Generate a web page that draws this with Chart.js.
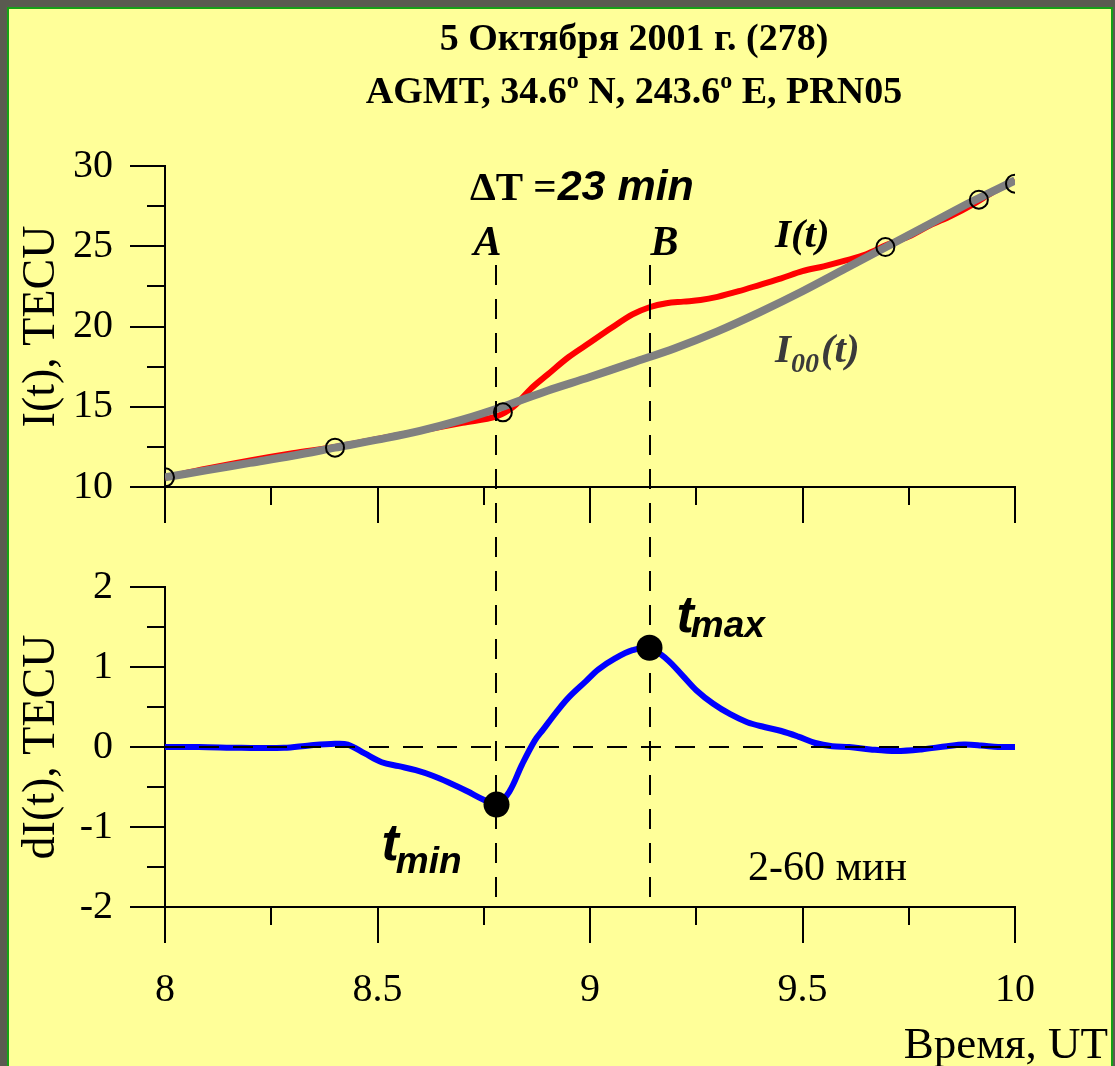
<!DOCTYPE html>
<html><head><meta charset="utf-8">
<script src="https://cdn.jsdelivr.net/npm/chart.js@4.4.1/dist/chart.umd.min.js"></script>
<style>
html,body{margin:0;padding:0;background:#5a5a50;width:1115px;height:1066px;overflow:hidden}
#panel{position:absolute;left:7px;top:7px;width:1106px;height:1075px;background:#ffff99;border:2px solid #16a016;box-sizing:border-box}
canvas{position:absolute;left:0}
#c1{top:0}
#c2{top:545px}
</style></head><body>
<div id="panel"></div>
<canvas id="c1" width="1115" height="545"></canvas>
<canvas id="c2" width="1115" height="521"></canvas>
<script>
const SERIF = '"Liberation Serif", "Times New Roman", serif';
const SANS = '"Liberation Sans", Arial, sans-serif';

// ---- data ----
const timeI = [8.0, 8.1, 8.2, 8.3, 8.4, 8.5, 8.6, 8.7, 8.78, 8.82, 8.86, 8.9, 8.95, 9.0, 9.05, 9.1, 9.14, 9.18, 9.22, 9.26, 9.3, 9.35, 9.4, 9.45, 9.5, 9.55, 9.6, 9.65, 9.7, 9.75, 9.8, 9.85, 9.9, 9.95, 10.0];
const valuesI = [10.6, 11.15, 11.65, 12.1, 12.5, 13.0, 13.5, 14.0, 14.4, 15.0, 16.1, 17.0, 18.1, 19.0, 19.9, 20.75, 21.2, 21.45, 21.55, 21.65, 21.85, 22.2, 22.6, 23.0, 23.45, 23.75, 24.1, 24.5, 25.1, 25.6, 26.3, 26.9, 27.6, 28.4, 29.1];

const timeI00 = [8.0, 8.1, 8.2, 8.3, 8.4, 8.5, 8.6, 8.7, 8.8, 8.9, 9.0, 9.1, 9.2, 9.3, 9.4, 9.5, 9.6, 9.7, 9.8, 9.9, 10.0];
const valuesI00 = [10.6, 11.05, 11.5, 11.95, 12.45, 12.95, 13.5, 14.2, 15.05, 16.0, 16.85, 17.75, 18.65, 19.7, 20.9, 22.2, 23.6, 25.0, 26.4, 27.8, 29.1];

const timeRef = [8.0, 8.4, 8.795, 9.695, 9.915, 10.0];
const valuesRef = [10.6, 12.45, 14.65, 24.95, 27.9, 28.9];

const timeDI = [8.0, 8.08, 8.18, 8.28, 8.34, 8.40, 8.43, 8.47, 8.51, 8.55, 8.59, 8.63, 8.67, 8.71, 8.75, 8.78, 8.81, 8.84, 8.87, 8.89, 8.92, 8.95, 8.99, 9.02, 9.06, 9.10, 9.14, 9.18, 9.22, 9.25, 9.29, 9.33, 9.37, 9.41, 9.45, 9.49, 9.53, 9.57, 9.61, 9.66, 9.72, 9.78, 9.84, 9.88, 9.92, 9.96, 10.0];
const valuesDI = [0.0, 0.0, -0.01, -0.01, 0.02, 0.04, 0.03, -0.08, -0.19, -0.24, -0.29, -0.36, -0.45, -0.55, -0.66, -0.72, -0.56, -0.22, 0.08, 0.22, 0.43, 0.62, 0.82, 0.97, 1.11, 1.21, 1.24, 1.10, 0.88, 0.71, 0.54, 0.41, 0.31, 0.25, 0.20, 0.13, 0.05, 0.01, 0.0, -0.03, -0.05, -0.03, 0.01, 0.03, 0.02, 0.0, 0.0];

const tA = 8.78, tB = 9.14;
const timeExtrema = [tA, tB];
const valuesExtrema = [-0.72, 1.24];

const xTickLabels = [8, 8.5, 9, 9.5, 10];
const yTopTickLabels = [10, 15, 20, 25, 30];
const yBottomTickLabels = [-2, -1, 0, 1, 2];

const pts = (xs, ys) => xs.map((x, i) => ({x: x, y: ys[i]}));

// ---- helpers ----
function drawRuns(ctx, x, y, runs, align) {
  let total = 0;
  runs.forEach(r => { ctx.font = r.font; r.w = ctx.measureText(r.text).width + (r.gap || 0); total += r.w; });
  let cx = align === 'center' ? x - total / 2 : (align === 'right' ? x - total : x);
  ctx.textAlign = 'left'; ctx.textBaseline = 'alphabetic';
  runs.forEach(r => { ctx.font = r.font; ctx.fillStyle = r.color || '#000'; ctx.fillText(r.text, cx, y + (r.dy || 0)); cx += r.w; });
}
function seg(ctx, x1, y1, x2, y2) { ctx.beginPath(); ctx.moveTo(x1, y1); ctx.lineTo(x2, y2); ctx.stroke(); }
function zeroPad(s) { s.paddingTop = 0; s.paddingBottom = 0; s.paddingLeft = 0; s.paddingRight = 0; }

function tickMarksPlugin(yMajor) {
  return {
    id: 'tickMarks',
    afterDraw(chart) {
      const ctx = chart.ctx, a = chart.chartArea, xs = chart.scales.x, ys = chart.scales.y;
      ctx.save();
      ctx.strokeStyle = '#000'; ctx.lineWidth = 2;
      ys.ticks.forEach(t => {
        const py = Math.round(ys.getPixelForValue(t.value));
        const len = yMajor.includes(t.value) ? 35 : 18;
        seg(ctx, a.left - len, py, a.left, py);
      });
      xs.ticks.forEach(t => {
        const px = Math.round(xs.getPixelForValue(t.value));
        const len = xTickLabels.includes(t.value) ? 36 : 18;
        seg(ctx, px, a.bottom, px, a.bottom + len);
      });
      ctx.restore();
    }
  };
}

const DASH = [20, 14];

const topPlugin = {
  id: 'topDecor',
  afterDatasetsDraw(chart) {
    const ctx = chart.ctx, xs = chart.scales.x;
    ctx.save();
    ctx.strokeStyle = '#000'; ctx.lineWidth = 2; ctx.setLineDash(DASH); ctx.lineDashOffset = 0;
    [tA, tB].forEach(t => { const px = Math.round(xs.getPixelForValue(t)); seg(ctx, px, 265, px, chart.height); });
    ctx.restore();
  },
  afterDraw(chart) {
    const ctx = chart.ctx, xs = chart.scales.x;
    ctx.save();
    drawRuns(ctx, 634, 50, [{text: '5 Октября 2001 г. (278)', font: 'bold 38px ' + SERIF}], 'center');
    drawRuns(ctx, 634, 103, [
      {text: 'AGMT, 34.6', font: 'bold 38px ' + SERIF},
      {text: 'o', font: 'bold 24px ' + SERIF, dy: -15},
      {text: ' N, 243.6', font: 'bold 38px ' + SERIF},
      {text: 'o', font: 'bold 24px ' + SERIF, dy: -15},
      {text: ' E, PRN05', font: 'bold 38px ' + SERIF}
    ], 'center');
    drawRuns(ctx, 470, 200, [
      {text: 'ΔT =', font: 'bold 41px ' + SERIF, gap: 1},
      {text: '23 min', font: 'bold italic 43px ' + SANS}
    ], 'left');
    const pA = xs.getPixelForValue(tA), pB = xs.getPixelForValue(tB);
    drawRuns(ctx, pA - 9, 255, [{text: 'A', font: 'bold italic 42px ' + SERIF}], 'center');
    drawRuns(ctx, pB + 15, 255, [{text: 'B', font: 'bold italic 42px ' + SERIF}], 'center');
    drawRuns(ctx, 775, 247, [{text: 'I(t)', font: 'bold italic 41px ' + SERIF}], 'left');
    drawRuns(ctx, 775, 362, [
      {text: 'I', font: 'bold italic 41px ' + SERIF, color: '#3a3a3a'},
      {text: '00', font: 'bold italic 28px ' + SERIF, dy: 10, color: '#3a3a3a', gap: 2},
      {text: '(t)', font: 'bold italic 41px ' + SERIF, color: '#3a3a3a'}
    ], 'left');
    ctx.restore();
  }
};

const bottomPlugin = {
  id: 'bottomDecor',
  afterDatasetsDraw(chart) {
    const ctx = chart.ctx, xs = chart.scales.x, ys = chart.scales.y, a = chart.chartArea;
    ctx.save();
    ctx.strokeStyle = '#000'; ctx.lineWidth = 2; ctx.setLineDash(DASH);
    const py0 = Math.round(ys.getPixelForValue(0));
    ctx.lineDashOffset = 0;
    seg(ctx, a.left, py0, a.right, py0);
    ctx.lineDashOffset = 545 - 265;
    [tA, tB].forEach(t => { const px = Math.round(xs.getPixelForValue(t)); seg(ctx, px, 0, px, a.bottom); });
    ctx.restore();
  },
  afterDraw(chart) {
    const ctx = chart.ctx, xs = chart.scales.x, ys = chart.scales.y;
    ctx.save();
    const pA = xs.getPixelForValue(tA), pB = xs.getPixelForValue(tB);
    const yB = ys.getPixelForValue(valuesExtrema[1]), yA = ys.getPixelForValue(valuesExtrema[0]);
    drawRuns(ctx, pB + 27, yB - 16, [
      {text: 't', font: 'bold italic 52px ' + SANS, gap: -3},
      {text: 'max', font: 'bold italic 37px ' + SANS, dy: 5}
    ], 'left');
    drawRuns(ctx, pA - 115, yA + 55, [
      {text: 't', font: 'bold italic 52px ' + SANS, gap: -3},
      {text: 'min', font: 'bold italic 37px ' + SANS, dy: 13}
    ], 'left');
    drawRuns(ctx, 748, 335, [{text: '2-60 мин', font: '42px ' + SERIF}], 'left');
    drawRuns(ctx, 1108, 513, [{text: 'Время, UT', font: '45px ' + SERIF}], 'right');
    ctx.restore();
  }
};

const tickFont = {family: SERIF, size: 40};
const axisBorder = {display: true, color: '#000', width: 2};
const noGrid = {display: true, drawOnChartArea: false, drawTicks: false};

Chart.defaults.font.family = SERIF;

new Chart(document.getElementById('c1'), {
  type: 'scatter',
  data: {
    datasets: [
      {label: 'I(t)', data: pts(timeI, valuesI), showLine: true, borderColor: '#ff0000', borderWidth: 6, pointRadius: 0, tension: 0.35, order: 2},
      {label: 'I00(t)', data: pts(timeI00, valuesI00), showLine: true, borderColor: '#808080', borderWidth: 8, pointRadius: 0, tension: 0.35, order: 1},
      {label: 'points', data: pts(timeRef, valuesRef), showLine: false, pointRadius: 9, pointBorderWidth: 2, pointBorderColor: '#000', pointBackgroundColor: 'rgba(0,0,0,0)', order: 0}
    ]
  },
  options: {
    responsive: false, animation: false, devicePixelRatio: 1,
    layout: {padding: {top: 166, left: 0, right: 100, bottom: 0}},
    plugins: {legend: {display: false}, tooltip: {enabled: false}, title: {display: false}},
    scales: {
      x: {type: 'linear', min: 8, max: 10,
          ticks: {display: false, stepSize: 0.25, autoSkip: false},
          grid: noGrid, border: axisBorder,
          afterFit(s) { s.height = 58; zeroPad(s); }},
      y: {type: 'linear', min: 10, max: 30,
          ticks: {stepSize: 2.5, autoSkip: false, color: '#000', font: tickFont, padding: 52,
                  callback: v => yTopTickLabels.includes(v) ? String(v) : ''},
          grid: noGrid, border: axisBorder,
          title: {display: true, text: 'I(t), TECU', color: '#000', font: {family: SERIF, size: 46}, padding: {top: 14, bottom: 0}},
          afterFit(s) { s.width = 165; zeroPad(s); }}
    }
  },
  plugins: [tickMarksPlugin(yTopTickLabels), topPlugin]
});

new Chart(document.getElementById('c2'), {
  type: 'scatter',
  data: {
    datasets: [
      {label: 'dI(t)', data: pts(timeDI, valuesDI), showLine: true, borderColor: '#0000ff', borderWidth: 6, pointRadius: 0, tension: 0.35, order: 1},
      {label: 'extrema', data: pts(timeExtrema, valuesExtrema), showLine: false, pointRadius: 13, pointBorderWidth: 0, pointBackgroundColor: '#000', pointBorderColor: '#000', order: 0}
    ]
  },
  options: {
    responsive: false, animation: false, devicePixelRatio: 1,
    layout: {padding: {top: 42, left: 0, right: 100, bottom: 0}},
    plugins: {legend: {display: false}, tooltip: {enabled: false}, title: {display: false}},
    scales: {
      x: {type: 'linear', min: 8, max: 10,
          ticks: {stepSize: 0.25, autoSkip: false, maxRotation: 0, color: '#000', font: tickFont, padding: 59,
                  callback: v => xTickLabels.includes(v) ? String(v) : ''},
          grid: noGrid, border: axisBorder,
          afterFit(s) { s.height = 159; zeroPad(s); }},
      y: {type: 'linear', min: -2, max: 2,
          ticks: {stepSize: 0.5, autoSkip: false, color: '#000', font: tickFont, padding: 52,
                  callback: v => yBottomTickLabels.includes(v) ? String(v) : ''},
          grid: noGrid, border: axisBorder,
          title: {display: true, text: 'dI(t), TECU', color: '#000', font: {family: SERIF, size: 46}, padding: {top: 14, bottom: 0}},
          afterFit(s) { s.width = 165; zeroPad(s); }}
    }
  },
  plugins: [tickMarksPlugin(yBottomTickLabels), bottomPlugin]
});
</script></body></html>
